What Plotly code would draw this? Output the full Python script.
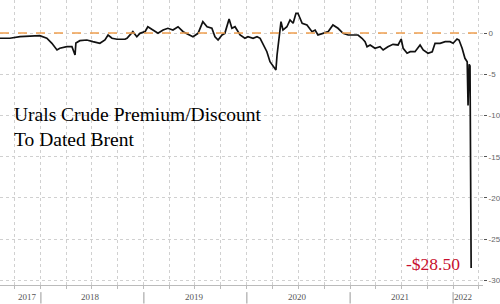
import plotly.graph_objects as go

dates = [
    "2017-08-09", "2017-09-13", "2017-10-19", "2017-11-23", "2017-12-28",
    "2018-01-22", "2018-02-09", "2018-02-27", "2018-03-09", "2018-04-03",
    "2018-04-21", "2018-05-02", "2018-05-05", "2018-05-19", "2018-06-13",
    "2018-07-04", "2018-07-29", "2018-08-16", "2018-08-27", "2018-09-10",
    "2018-09-28", "2018-10-26", "2018-11-02", "2018-11-23", "2018-12-07",
    "2018-12-18", "2019-01-05", "2019-01-15", "2019-02-02", "2019-02-20",
    "2019-03-10", "2019-03-27", "2019-04-14", "2019-05-02", "2019-05-20",
    "2019-06-06", "2019-06-24", "2019-07-12", "2019-07-29", "2019-08-13",
    "2019-08-30", "2019-09-10", "2019-09-21", "2019-10-05", "2019-10-15",
    "2019-10-30", "2019-11-09", "2019-11-20", "2019-12-08", "2019-12-25",
    "2020-01-05", "2020-01-23", "2020-02-06", "2020-02-17", "2020-02-27",
    "2020-03-12", "2020-03-23", "2020-04-03", "2020-04-13", "2020-04-17",
    "2020-04-24", "2020-05-01", "2020-05-08", "2020-05-22", "2020-06-02",
    "2020-06-13", "2020-06-23", "2020-06-30", "2020-07-15", "2020-08-01",
    "2020-08-19", "2020-08-30", "2020-09-09", "2020-09-27", "2020-10-15",
    "2020-11-01", "2020-11-19", "2020-12-07", "2020-12-25", "2021-01-11",
    "2021-01-29", "2021-02-12", "2021-02-23", "2021-03-02", "2021-03-13",
    "2021-03-30", "2021-04-17", "2021-04-28", "2021-05-15", "2021-06-02",
    "2021-06-20", "2021-07-01", "2021-07-08", "2021-07-22", "2021-08-02",
    "2021-08-19", "2021-09-06", "2021-09-17", "2021-10-04", "2021-10-19",
    "2021-10-29", "2021-11-16", "2021-12-04", "2021-12-21", "2022-01-01",
    "2022-01-15", "2022-01-22", "2022-02-02", "2022-02-12", "2022-02-20",
    "2022-02-23", "2022-02-27", "2022-03-02", "2022-03-06",
]
values = [
    -0.64, -0.64, -0.45, -0.36, -0.33,
    -0.64, -1.25, -2.06, -1.85, -1.66,
    -1.66, -2.67, -1.21, -0.93, -0.85,
    -1.05, -1.25, -0.85, -0.24, -0.64,
    -0.76, -0.76, -0.64, 0.16, -0.45,
    -0.04, 0.16, 0.76, 0.36, -0.04,
    0.36, 0.57, 0.36, 0.76, 0.16,
    -0.16, -0.45, -0.04, 1.37, 0.76,
    0.57, -0.45, -0.85, -0.24, -0.04,
    1.70, 0.57, 0.76, -0.24, -0.64,
    -0.45, -0.64, -0.45, -0.64, -1.25,
    -2.27, -3.48, -4.08, -4.48, -2.67,
    -0.24, 1.37, 0.36, 0.76, 1.58,
    1.18, 2.39, 2.39, 1.18, 0.97,
    0.16, 0.36, -0.24, -0.04, 0.16,
    0.97, 0.57, -0.04, -0.24, -0.24,
    -0.24, -0.64, -1.05, -1.66, -1.45,
    -1.85, -1.66, -2.06, -1.66, -1.37,
    -1.45, -0.73, -1.85, -2.46, -2.27,
    -2.27, -1.45, -2.06, -2.46, -2.27,
    -1.25, -1.25, -1.05, -1.05, -1.25,
    -0.73, -0.85, -1.85, -3.07, -3.50,
    -8.80, -3.80, -4.00, -28.50,
]

year_labels = ["2017", "2018", "2019", "2020", "2021", "2022"]
year_label_dates = ["2017-11-16", "2018-06-24", "2019-07-01", "2020-06-30", "2021-06-27", "2022-02-05"]
year_bounds = ["2018-01-01", "2019-01-01", "2020-01-01", "2021-01-01", "2022-01-01"]
y_ticks = [0, -5, -10, -15, -20, -25, -30]

title_text = "Urals Crude Premium/Discount<br>To Dated Brent"
last_label = "-$28.50"

fig = go.Figure()
fig.add_trace(go.Scatter(
    x=dates, y=values, mode="lines",
    line=dict(color="#111111", width=1.7),
    showlegend=False, hoverinfo="skip",
))

fig.add_shape(type="line", xref="paper", yref="y", x0=0, x1=1, y0=0, y1=0,
              line=dict(color="#F0A050", width=1.6, dash="dash"), layer="above")

for yb in year_bounds:
    fig.add_shape(type="line", xref="x", yref="paper", x0=yb, x1=yb, y0=-0.025, y1=-0.065,
                  line=dict(color="#999999", width=1))

for lbl, d in zip(year_labels, year_label_dates):
    fig.add_annotation(x=d, xref="x", y=-0.043, yref="paper", text=lbl, showarrow=False,
                       font=dict(family="Liberation Serif", size=9, color="#555555"),
                       yanchor="middle", xanchor="center")

fig.add_annotation(x=0.024, xref="paper", y=-11.4, yref="y", text=title_text, showarrow=False,
                   xanchor="left", yanchor="middle", align="left",
                   font=dict(family="Liberation Serif", size=19.5, color="#000000"))

fig.add_annotation(x=dates[-1], xref="x", y=values[-1], yref="y", text=last_label, showarrow=False,
                   xanchor="right", yanchor="middle", xshift=-9, yshift=4,
                   font=dict(family="Liberation Serif", size=17.5, color="#C8102E"))

fig.update_layout(
    width=500, height=304,
    margin=dict(l=0, r=17, t=0, b=19),
    paper_bgcolor="white", plot_bgcolor="white",
    xaxis=dict(
        type="date",
        range=["2017-08-09", "2022-04-17"],
        tickvals=year_bounds, ticktext=[""] * len(year_bounds),
        showgrid=False, ticks="",
        showline=True, linecolor="#bbbbbb", linewidth=1,
        minor=dict(dtick="M3", tick0="2018-01-01", showgrid=True, gridcolor="#d0d0d0",
                   griddash="dot", gridwidth=1, ticks="outside", ticklen=3, tickcolor="#bbbbbb"),
        zeroline=False,
    ),
    yaxis=dict(
        side="right", range=[-30.55, 4.0],
        tickvals=y_ticks, ticktext=[str(v) for v in y_ticks],
        showgrid=True, gridcolor="#d0d0d0", griddash="dot", gridwidth=1,
        ticks="outside", ticklen=3, tickcolor="#555555",
        tickfont=dict(family="Liberation Sans", size=8, color="#666666"),
        zeroline=False, showline=False,
    ),
)

fig.write_html("out.html")
